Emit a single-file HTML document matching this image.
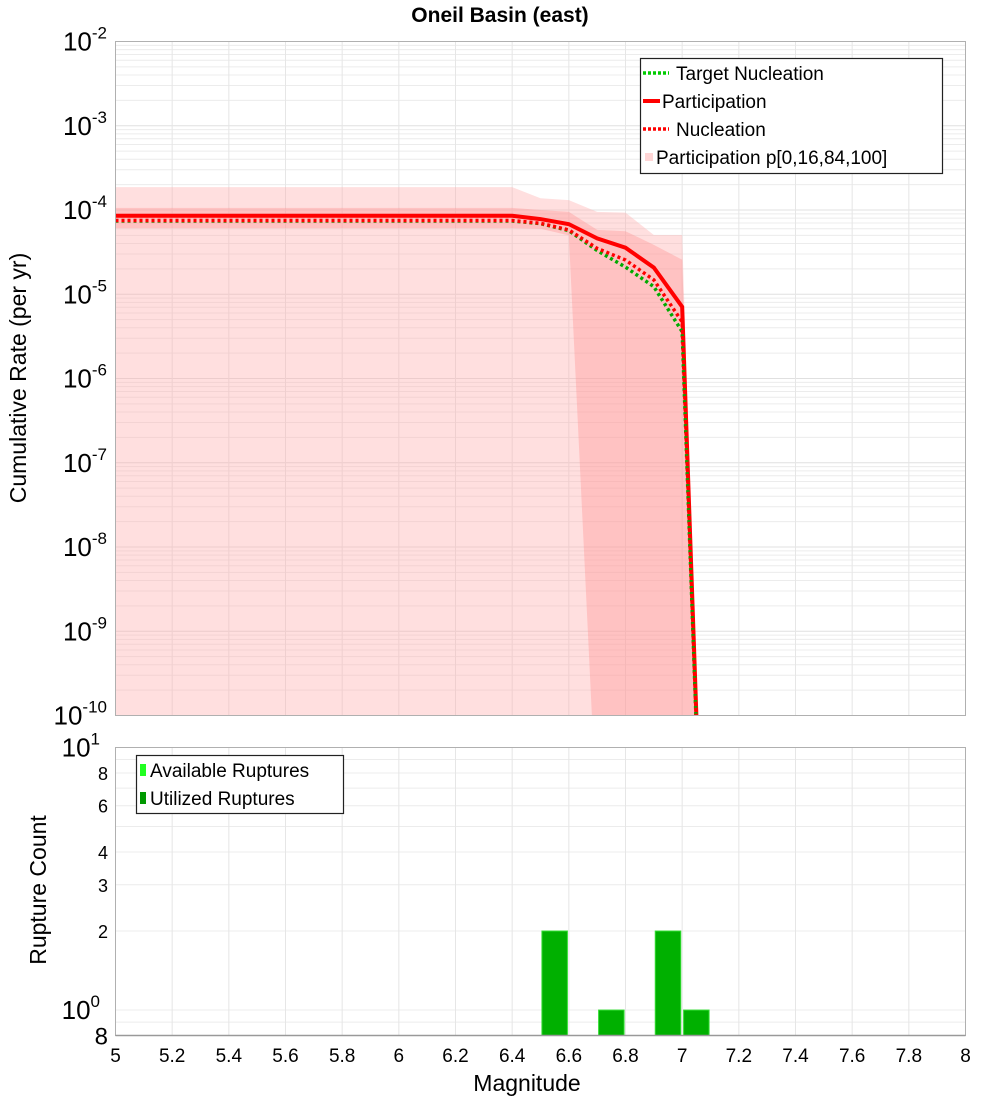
<!DOCTYPE html>
<html><head><meta charset="utf-8"><style>
body{margin:0;background:#fff;}
svg{display:block;font-family:"Liberation Sans","DejaVu Sans",sans-serif;}
</style></head><body>
<svg id="chart" width="1000" height="1100" viewBox="0 0 1000 1100" xmlns="http://www.w3.org/2000/svg">
<text x="500" y="22" text-anchor="middle" font-size="21" font-weight="bold">Oneil Basin (east)</text>
<g id="topg"></g>
<g id="botg"></g>
<text transform="translate(26,378) rotate(-90)" text-anchor="middle" font-size="23">Cumulative Rate (per yr)</text>
<text transform="translate(46,890) rotate(-90)" text-anchor="middle" font-size="23">Rupture Count</text>
<text x="527" y="1091" text-anchor="middle" font-size="23">Magnitude</text>
</svg>
<script>
const mags = [5.0,5.1,5.2,5.3,5.4,5.5,5.6,5.7,5.8,5.9,6.0,6.1,6.2,6.3,6.4,6.5,6.6,6.7,6.8,6.9,7.0,7.1];
const participation = [8.55e-5,8.55e-5,8.55e-5,8.55e-5,8.55e-5,8.55e-5,8.55e-5,8.55e-5,8.55e-5,8.55e-5,8.55e-5,8.55e-5,8.55e-5,8.55e-5,8.55e-5,7.8e-5,6.8e-5,4.6e-5,3.57e-5,2.07e-5,7.1e-6,1.5e-15];
const nucleation = [7.5e-5,7.5e-5,7.5e-5,7.5e-5,7.5e-5,7.5e-5,7.5e-5,7.5e-5,7.5e-5,7.5e-5,7.5e-5,7.5e-5,7.5e-5,7.5e-5,7.5e-5,6.95e-5,5.8e-5,3.5e-5,2.55e-5,1.48e-5,4.7e-6,1.5e-15];
const targetNucleation = [7.4e-5,7.4e-5,7.4e-5,7.4e-5,7.4e-5,7.4e-5,7.4e-5,7.4e-5,7.4e-5,7.4e-5,7.4e-5,7.4e-5,7.4e-5,7.4e-5,7.4e-5,6.9e-5,5.7e-5,3.3e-5,2.1e-5,1.23e-5,3.6e-6,1.5e-15];
const p100 = [1.87e-4,1.87e-4,1.87e-4,1.87e-4,1.87e-4,1.87e-4,1.87e-4,1.87e-4,1.87e-4,1.87e-4,1.87e-4,1.87e-4,1.87e-4,1.87e-4,1.87e-4,1.38e-4,1.31e-4,9.5e-5,9.3e-5,5.05e-5,5.05e-5,1e-15];
const p84 = [1.06e-4,1.06e-4,1.06e-4,1.06e-4,1.06e-4,1.06e-4,1.06e-4,1.06e-4,1.06e-4,1.06e-4,1.06e-4,1.06e-4,1.06e-4,1.06e-4,1.06e-4,1.0e-4,9.5e-5,5.8e-5,5.6e-5,3.85e-5,2.57e-5,1e-15];
const p16 = [6.1e-5,6.1e-5,6.1e-5,6.1e-5,6.1e-5,6.1e-5,6.1e-5,6.1e-5,6.1e-5,6.1e-5,6.1e-5,6.1e-5,6.1e-5,6.1e-5,6.1e-5,6.0e-5,5.0e-5,5e-12,5e-14,5e-14,5e-14,1e-15];
const p0 = [1e-14,1e-14,1e-14,1e-14,1e-14,1e-14,1e-14,1e-14,1e-14,1e-14,1e-14,1e-14,1e-14,1e-14,1e-14,1e-14,1e-14,1e-14,1e-14,1e-14,1e-14,1e-15];
const binCenters = [6.55,6.75,6.95,7.05];
const availableCounts = [2,1,2,1];
const utilizedCounts = [2,1,2,1];
const xTicks = [5,5.2,5.4,5.6,5.8,6,6.2,6.4,6.6,6.8,7,7.2,7.4,7.6,7.8,8];
const yTickExps = [-2,-3,-4,-5,-6,-7,-8,-9,-10];
const countTicks = [8,6,4,3,2];

const NS='http://www.w3.org/2000/svg';
function mk(tag,attrs,parent){const e=document.createElementNS(NS,tag);for(const k in attrs)e.setAttribute(k,attrs[k]);parent.appendChild(e);return e;}
const L=115.5,R=965.5,T1=41.5,B1=715.5,T2=747.5,B2=1035.5;
const xs=m=>L+(m-5)/3*(R-L);
const ys=v=>T1+(-2-Math.log10(v))*(B1-T1)/8;
const lc0=Math.log10(0.8),lc1=1;
const yc=v=>B2-(Math.log10(v)-lc0)/(lc1-lc0)*(B2-T2);
const topG=document.getElementById('topg'), botG=document.getElementById('botg');

const grid1=mk('g',{},topG);


for(let e=-10;e<-2;e++){for(let k=1;k<10;k++){const y=ys(k*Math.pow(10,e));mk('line',{x1:L,x2:R,y1:y,y2:y,stroke:k==1?'#e0e0e0':'#ececec','stroke-width':1},grid1);}}
xTicks.forEach(t=>{const x=xs(t);mk('line',{x1:x,x2:x,y1:T1,y2:B1,stroke:'#e6e6e6','stroke-width':1},grid1);});

const clip=mk('clipPath',{id:'c1'},topG);mk('rect',{x:L,y:T1,width:R-L,height:B1-T1},clip);
const plot=mk('g',{'clip-path':'url(#c1)'},topG);
function band(lo,hi,fill,name){let d='M';mags.forEach((m,i)=>{d+=xs(m)+','+ys(hi[i])+' L';});for(let i=mags.length-1;i>=0;i--){d+=xs(mags[i])+','+ys(lo[i])+(i?' L':'');}d+='Z';const p=mk('path',{d:d,fill:fill,stroke:'none'},plot);

}
band(p0,p100,'rgba(255,170,170,0.38)','band-p0-p100');
band(p16,p84,'rgba(255,150,150,0.4)','band-p16-p84');
function line(vals,color,dash,w,name){const pts=mags.map((m,i)=>xs(m)+','+ys(vals[i])).join(' ');const a={points:pts,fill:'none',stroke:color,'stroke-width':w};if(dash)a['stroke-dasharray']=dash;const p=mk('polyline',a,plot);

}
line(participation,'#ff0000',null,4,'participation-line');
line(targetNucleation,'#00aa00','3,3',3.5,'target-nucleation-line');
line(nucleation,'#ff0000','3,3',3.5,'nucleation-line');
mk('rect',{x:L,y:T1,width:R-L,height:B1-T1,fill:'none',stroke:'#b0b0b0','stroke-width':1},topG);
yTickExps.forEach(e=>{const y=ys(Math.pow(10,e));const t=mk('text',{x:107,y:y+9,'text-anchor':'end','font-size':26},topG);t.textContent='10';const s=mk('tspan',{dy:-12,'font-size':17},t);s.textContent=String(e);

});

const lg=mk('g',{},topG);


mk('rect',{x:640.5,y:58.5,width:302,height:115,fill:'#fff',stroke:'#222','stroke-width':1.2},lg);
const items=[['Target Nucleation','#00cc00','dot',73],['Participation','#ff0000','solid',101],['Nucleation','#ff0000','dot',129],['Participation p[0,16,84,100]','#ffd6d6','sq',157]];
items.forEach(it=>{const y=it[3];if(it[2]=='dot'){mk('line',{x1:643,x2:669,y1:y,y2:y,stroke:it[1],'stroke-width':3.5,'stroke-dasharray':'3,2'},lg);}else if(it[2]=='solid'){mk('line',{x1:643,x2:660,y1:y,y2:y,stroke:it[1],'stroke-width':4},lg);}else{mk('rect',{x:645,y:y-4,width:8,height:8,fill:it[1]},lg);}
const t=mk('text',{x:it[2]=='dot'?676:(it[2]=='solid'?662:656),y:y+7,'font-size':19},lg);t.textContent=it[0];

});

const grid2=mk('g',{},botG);


[0.8,0.9,1,2,3,4,5,6,7,8,9].forEach(v=>{const y=yc(v);mk('line',{x1:L,x2:R,y1:y,y2:y,stroke:'#ececec','stroke-width':1},grid2);});
xTicks.forEach(t=>{const x=xs(t);mk('line',{x1:x,x2:x,y1:T2,y2:B2,stroke:'#e6e6e6','stroke-width':1},grid2);});
binCenters.forEach((c,i)=>{const w=0.09*(R-L)/3;
const a=mk('rect',{x:xs(c)-w/2,y:yc(availableCounts[i]),width:w,height:B2-yc(availableCounts[i]),fill:'#33ff33'},botG);


const u=mk('rect',{x:xs(c)-w/2,y:yc(utilizedCounts[i]),width:w,height:B2-yc(utilizedCounts[i]),fill:'#00b000',stroke:'#33dd33','stroke-width':1},botG);

});
mk('rect',{x:L,y:T2,width:R-L,height:B2-T2,fill:'none',stroke:'#b0b0b0','stroke-width':1},botG);
mk('line',{x1:L,x2:R,y1:B2,y2:B2,stroke:'#999','stroke-width':1.5},botG);
countTicks.forEach(v=>{const t=mk('text',{x:108,y:yc(v)+7,'text-anchor':'end','font-size':18},botG);t.textContent=String(v);

});
[[10,'1'],[1,'0']].forEach(p=>{const t=mk('text',{x:100,y:yc(p[0])+9,'text-anchor':'end','font-size':26},botG);t.textContent='10';const s=mk('tspan',{dy:-12,'font-size':17},t);s.textContent=p[1];

});
(function(){const t=mk('text',{x:108,y:B2+9,'text-anchor':'end','font-size':24},botG);t.textContent='8';

})();
xTicks.forEach(v=>{const t=mk('text',{x:xs(v),y:1062,'text-anchor':'middle','font-size':19},botG);t.textContent=String(v);

});
const lg2=mk('g',{},botG);


mk('rect',{x:136.5,y:755.5,width:207,height:58,fill:'#fff',stroke:'#222','stroke-width':1.2},lg2);
[['Available Ruptures','#22ff22',770],['Utilized Ruptures','#009900',798]].forEach(it=>{mk('rect',{x:140,y:it[2]-6,width:6,height:12,fill:it[1]},lg2);const t=mk('text',{x:150,y:it[2]+7,'font-size':19},lg2);t.textContent=it[0];

});
</script>
</body></html>
